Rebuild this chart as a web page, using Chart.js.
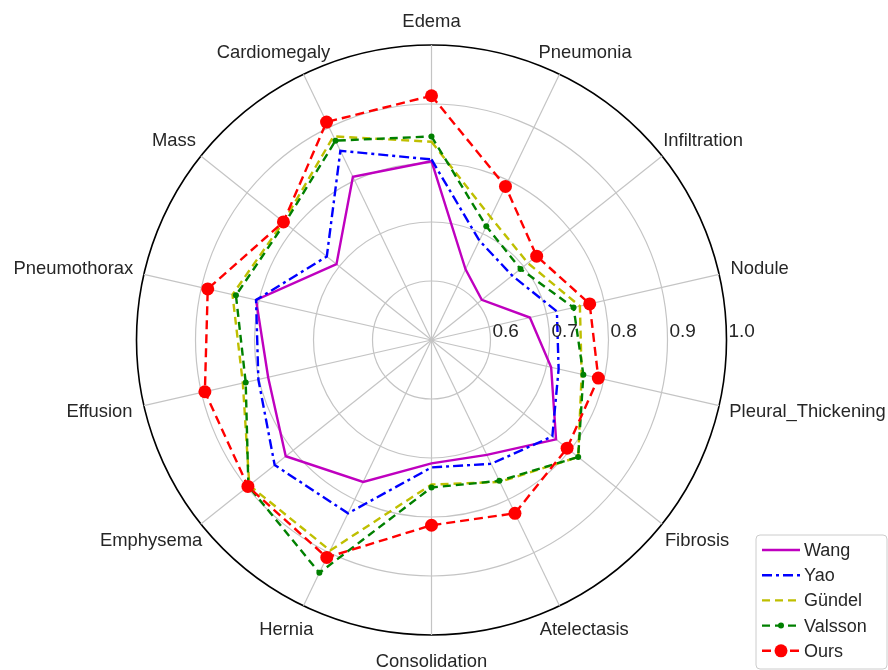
<!DOCTYPE html>
<html>
<head>
<meta charset="utf-8">
<title>AUC per pathology</title>
<script src="https://cdn.jsdelivr.net/npm/chart.js@4.4.1/dist/chart.umd.min.js"></script>
<style>
  html, body { margin: 0; padding: 0; background: #ffffff; }
  #wrap { width: 888px; height: 670px; position: relative; }
</style>
</head>
<body>
<div id="wrap"><canvas id="radar" width="888" height="670"></canvas></div>
<script>
// Pathology categories, clockwise from the top
const categories = ['Edema', 'Pneumonia', 'Infiltration', 'Nodule', 'Pleural_Thickening',
  'Fibrosis', 'Atelectasis', 'Consolidation', 'Hernia', 'Emphysema', 'Effusion',
  'Pneumothorax', 'Mass', 'Cardiomegaly'];

// AUC per method
const wang    = [0.803, 0.633, 0.609, 0.671, 0.708, 0.770, 0.716, 0.709, 0.767, 0.816, 0.784, 0.805, 0.706, 0.807];
const yao     = [0.806, 0.687, 0.675, 0.718, 0.721, 0.762, 0.733, 0.716, 0.826, 0.840, 0.801, 0.805, 0.727, 0.856];
const gundel  = [0.836, 0.731, 0.709, 0.758, 0.761, 0.818, 0.767, 0.745, 0.896, 0.895, 0.828, 0.846, 0.821, 0.883];
const valsson = [0.845, 0.714, 0.693, 0.747, 0.764, 0.818, 0.765, 0.750, 0.938, 0.897, 0.823, 0.840, 0.818, 0.875];
const ours    = [0.914, 0.789, 0.728, 0.775, 0.790, 0.794, 0.826, 0.814, 0.909, 0.898, 0.894, 0.889, 0.821, 0.910];

// Radial axis range and ring labels
const rMin = 0.5;
const rMax = 1.0;
const ringStep = 0.1;
const ringLabels = ['0.6', '0.7', '0.8', '0.9', '1.0'];

const FONT = '"Liberation Sans", Arimo, Arial, sans-serif';
const TEXT = '#262626';

// polar geometry of the plot
const CX = 431.5, CY = 340, RADIUS = 295;

function series(label, data, color, dash, pointRadius, order) {
  return {
    label, data, order,
    borderColor: color,
    backgroundColor: color,
    borderWidth: 2.4,
    borderDash: dash,
    fill: false,
    tension: 0,
    pointRadius: pointRadius,
    pointHoverRadius: pointRadius,
    pointBackgroundColor: color,
    pointBorderColor: color,
    pointBorderWidth: 0
  };
}

const datasets = [
  series('Wang',    wang,    '#bf00bf', [],            0,   5),
  series('Yao',     yao,     '#0000ff', [10, 4, 3, 4], 0,   4),
  series('Gündel',  gundel,  '#bfbf00', [8, 5],        0,   3),
  series('Valsson', valsson, '#008000', [8, 5],        3,   2),
  series('Ours',    ours,    '#ff0000', [9, 5],        6.5, 1)
];

// category names around the rim and the ring values along the right-hand spoke
const textPlugin = {
  id: 'rimText',
  afterDraw(chart) {
    const s = chart.scales.r;
    const ctx = chart.ctx;
    ctx.save();
    ctx.fillStyle = TEXT;
    ctx.font = '18.4px ' + FONT;
    ctx.textAlign = 'center';
    ctx.textBaseline = 'middle';
    const rA = s.drawingArea + 12.5;
    chart.data.labels.forEach((lab, i) => {
      const p = s.getPointPosition(i, rA);
      const w = ctx.measureText(lab).width;
      const sy = Math.sin(p.angle);
      const halfH = sy > 0 ? 14 : 11;
      ctx.fillText(lab, p.x + Math.cos(p.angle) * w / 2, p.y + sy * halfH);
    });
    ctx.font = '19px ' + FONT;
    ctx.textAlign = 'left';
    ringLabels.forEach((t) => {
      const d = s.getDistanceFromCenterForValue(parseFloat(t));
      ctx.fillText(t, s.xCenter + d + 2, s.yCenter - 8);
    });
    ctx.restore();
  }
};

// legend box in the lower right corner
const legendPlugin = {
  id: 'cornerLegend',
  afterDraw(chart) {
    const ctx = chart.ctx;
    const x0 = 756, y0 = 535, w = 131, hgt = 134, r = 4;
    ctx.save();
    ctx.beginPath();
    ctx.moveTo(x0 + r, y0);
    ctx.lineTo(x0 + w - r, y0);
    ctx.quadraticCurveTo(x0 + w, y0, x0 + w, y0 + r);
    ctx.lineTo(x0 + w, y0 + hgt - r);
    ctx.quadraticCurveTo(x0 + w, y0 + hgt, x0 + w - r, y0 + hgt);
    ctx.lineTo(x0 + r, y0 + hgt);
    ctx.quadraticCurveTo(x0, y0 + hgt, x0, y0 + hgt - r);
    ctx.lineTo(x0, y0 + r);
    ctx.quadraticCurveTo(x0, y0, x0 + r, y0);
    ctx.closePath();
    ctx.fillStyle = 'rgba(255,255,255,0.85)';
    ctx.fill();
    ctx.strokeStyle = '#cccccc';
    ctx.lineWidth = 1;
    ctx.stroke();

    ctx.font = '18px ' + FONT;
    ctx.textBaseline = 'middle';
    ctx.textAlign = 'left';
    chart.data.datasets.forEach((ds, k) => {
      const y = 550 + k * 25.2;
      ctx.strokeStyle = ds.borderColor;
      ctx.lineWidth = ds.borderWidth;
      ctx.setLineDash(ds.borderDash);
      ctx.beginPath();
      ctx.moveTo(762, y);
      ctx.lineTo(800, y);
      ctx.stroke();
      ctx.setLineDash([]);
      if (ds.pointRadius > 0) {
        ctx.fillStyle = ds.pointBackgroundColor;
        ctx.beginPath();
        ctx.arc(781, y, ds.pointRadius, 0, Math.PI * 2);
        ctx.fill();
      }
      ctx.fillStyle = TEXT;
      ctx.fillText(ds.label, 804, y + 1);
    });
    ctx.restore();
  }
};

new Chart(document.getElementById('radar'), {
  type: 'radar',
  data: { labels: categories, datasets },
  options: {
    responsive: false,
    animation: false,
    events: [],
    plugins: { legend: { display: false }, tooltip: { enabled: false } },
    layout: { padding: 0 },
    elements: { line: { tension: 0 } },
    scales: {
      r: {
        min: rMin,
        max: rMax,
        beginAtZero: false,
        ticks: { display: false, stepSize: ringStep },
        pointLabels: { display: false },
        grid: {
          circular: true,
          color: (c) => (c.index === ringLabels.length ? '#000000' : '#c4c4c4'),
          lineWidth: (c) => (c.index === ringLabels.length ? 1.6 : 1.2)
        },
        angleLines: { display: true, color: '#c4c4c4', lineWidth: 1.2 },
        afterFit(scale) {
          scale.xCenter = CX;
          scale.yCenter = CY;
          scale.drawingArea = RADIUS;
        }
      }
    }
  },
  plugins: [textPlugin, legendPlugin]
});
</script>
</body>
</html>
